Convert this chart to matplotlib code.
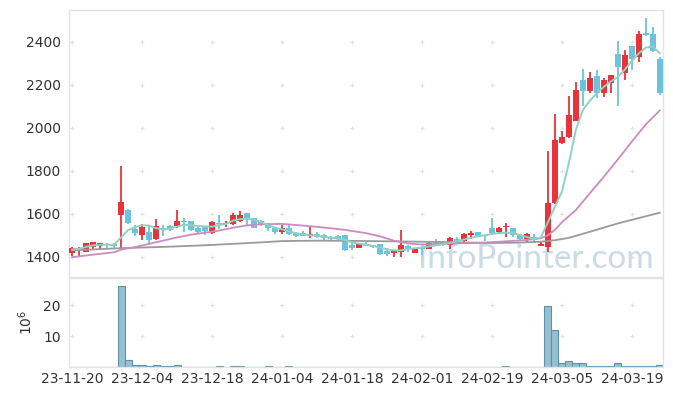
import numpy as np
import matplotlib
matplotlib.use('Agg')
import matplotlib.pyplot as plt

# daily candles, trading-day index 0 = 2023-11-20
opens = [1416, 1433, 1423, 1446, 1450, 1457, 1458, 1595, 1617, 1530,
         1502, 1515, 1481, 1533, 1543, 1541, 1566, 1566, 1532, 1541,
         1510, 1557, 1554, 1553, 1566, 1603, 1578, 1566, 1551, 1535,
         1513, 1535, 1510, 1510, 1498, 1504, 1501, 1492, 1496, 1501,
         1454, 1442, 1460, 1454, 1458, 1427, 1419, 1422, 1450, 1419,
         1440, 1437, 1465, 1465, 1453, 1484, 1472, 1500, 1515, 1500,
         1533, 1515, 1537, 1533, 1500, 1481, 1493, 1450, 1447, 1648,
         1930, 1955, 2032, 2222, 2172, 2240, 2163, 2209, 2343, 2253,
         2380, 2327, 2442, 2435, 2321]
highs = [1444, 1446, 1466, 1471, 1466, 1466, 1462, 1822, 1620, 1546,
         1551, 1542, 1577, 1546, 1550, 1617, 1581, 1568, 1538, 1545,
         1566, 1594, 1568, 1603, 1612, 1603, 1582, 1570, 1557, 1537,
         1550, 1547, 1515, 1519, 1538, 1516, 1507, 1495, 1499, 1501,
         1468, 1465, 1468, 1455, 1458, 1440, 1428, 1524, 1456, 1440,
         1446, 1468, 1481, 1472, 1490, 1490, 1509, 1518, 1515, 1500,
         1580, 1540, 1555, 1533, 1500, 1512, 1506, 1474, 1890, 2063,
         1985, 2147, 2212, 2271, 2257, 2266, 2231, 2244, 2401, 2360,
         2380, 2448, 2510, 2470, 2330]
lows = [1403, 1405, 1421, 1432, 1430, 1443, 1443, 1440, 1552, 1496,
        1480, 1459, 1478, 1496, 1520, 1535, 1513, 1522, 1510, 1502,
        1505, 1529, 1540, 1550, 1562, 1550, 1535, 1545, 1520, 1508,
        1508, 1501, 1494, 1495, 1486, 1486, 1476, 1478, 1476, 1425,
        1430, 1440, 1448, 1442, 1408, 1403, 1400, 1400, 1422, 1416,
        1410, 1434, 1450, 1450, 1437, 1468, 1459, 1482, 1493, 1474,
        1505, 1505, 1490, 1490, 1478, 1470, 1464, 1450, 1422, 1645,
        1926, 1950, 2030, 2100, 2160, 2140, 2141, 2163, 2101, 2222,
        2266, 2305, 2424, 2350, 2150]
closes = [1439, 1442, 1462, 1468, 1462, 1454, 1450, 1654, 1555, 1512,
          1537, 1478, 1543, 1524, 1524, 1566, 1563, 1526, 1516, 1519,
          1560, 1553, 1557, 1594, 1594, 1578, 1535, 1547, 1535, 1513,
          1535, 1504, 1498, 1498, 1507, 1498, 1486, 1482, 1482, 1430,
          1439, 1460, 1451, 1446, 1414, 1415, 1425, 1453, 1434, 1434,
          1434, 1462, 1459, 1456, 1487, 1474, 1506, 1509, 1493, 1496,
          1512, 1533, 1540, 1500, 1484, 1506, 1478, 1459, 1648, 1943,
          1956, 2058, 2175, 2169, 2231, 2163, 2222, 2244, 2281, 2337,
          2321, 2435, 2433, 2355, 2163]
# volume, millions of shares
volume = [0, 0, 0, 0, 0, 0, 0, 26.2, 2.3, 0.6,
          0.6, 0.3, 0.6, 0.3, 0.3, 0.6, 0, 0, 0, 0,
          0, 0.3, 0, 0.3, 0.3, 0, 0, 0, 0.3, 0,
          0, 0.3, 0, 0, 0, 0, 0, 0, 0, 0,
          0, 0, 0, 0, 0, 0, 0, 0, 0, 0,
          0, 0, 0, 0, 0, 0, 0, 0, 0, 0,
          0, 0, 0.3, 0, 0, 0, 0, 0, 19.8, 12.0,
          1.3, 2.1, 1.3, 1.3, 0.3, 0.3, 0.3, 0.3, 1.3, 0.3,
          0.3, 0.3, 0.3, 0.3, 0.6]

# moving averages (index, value)
ma5_idx = list(range(85))
ma5_val = [1434, 1437, 1446, 1453, 1456, 1456, 1456, 1490, 1524, 1538,
           1546, 1545, 1533, 1526, 1531, 1540, 1549, 1547, 1543, 1541,
           1540, 1548, 1553, 1568, 1575, 1577, 1572, 1562, 1547, 1536,
           1528, 1518, 1510, 1504, 1500, 1496, 1493, 1489, 1485, 1478,
           1467, 1461, 1457, 1450, 1443, 1435, 1430, 1430, 1435, 1440,
           1443, 1448, 1453, 1458, 1465, 1472, 1480, 1488, 1495, 1500,
           1506, 1510, 1512, 1510, 1502, 1492, 1482, 1490, 1560, 1632,
           1702, 1834, 1989, 2082, 2125, 2160, 2190, 2215, 2235, 2270,
           2310, 2345, 2372, 2378, 2346]
ma20_idx = [0, 3, 6, 7, 9, 11, 13, 15, 17, 19, 21, 23, 25, 27, 30, 33, 36, 39,
            42, 44, 46, 48, 50, 53, 56, 59, 62, 65, 67, 68, 69, 70, 72, 74,
            76, 78, 80, 82, 84]
ma20_val = [1398, 1410, 1421, 1433, 1445, 1460, 1475, 1490, 1503, 1512, 1522,
            1535, 1546, 1551, 1553, 1545, 1536, 1525, 1510, 1495, 1475, 1462,
            1457, 1460, 1463, 1466, 1472, 1478, 1486, 1500, 1525, 1560, 1617,
            1695, 1772, 1852, 1935, 2015, 2080]
ma60_idx = [0, 7, 14, 20, 27, 30, 35, 40, 45, 50, 55, 60, 64, 67, 69, 71, 74,
            78, 81, 84]
ma60_val = [1430, 1440, 1447, 1455, 1467, 1473, 1475, 1474, 1472, 1470, 1467,
            1464, 1466, 1470, 1477, 1488, 1516, 1555, 1580, 1605]

tick_pos = [0, 10, 20, 30, 40, 50, 60, 70, 80]
tick_labels = ['23-11-20', '23-12-04', '23-12-18', '24-01-04', '24-01-18',
               '24-02-01', '24-02-19', '24-03-05', '24-03-19']
price_ticks = [1400, 1600, 1800, 2000, 2200, 2400]
vol_ticks = [10, 20]

UP = '#e8333a'
DOWN = '#6cc4dc'
SPINE = '#e3e3e3'

fig = plt.figure(figsize=(6.73, 3.96), dpi=100)
ax = fig.add_axes([0.1025, 0.3005, 0.8825, 0.6742])
axv = fig.add_axes([0.1025, 0.0725, 0.8825, 0.2255])

x = np.arange(len(closes))
o = np.array(opens)
c = np.array(closes)
colors = [UP if cc >= oo else DOWN for oo, cc in zip(o, c)]

# grid crosses
gx, gy = np.meshgrid(tick_pos, price_ticks)
ax.scatter(gx.ravel(), gy.ravel(), marker='+', s=12, color='#e2e2e2', lw=0.8, zorder=0)
gx, gy = np.meshgrid(tick_pos, vol_ticks)
axv.scatter(gx.ravel(), gy.ravel(), marker='+', s=12, color='#e2e2e2', lw=0.8, zorder=0)

ax.text(0.985, 0.035, 'InfoPointer.com', transform=ax.transAxes, ha='right',
        va='baseline', fontsize=24, family='Lato', color='#bdd2df', alpha=0.8, zorder=1)

ax.vlines(x, lows, highs, colors=colors, lw=1.3, zorder=2)
body = np.maximum(np.abs(c - o), 4)
ax.bar(x, body, bottom=np.minimum(o, c), width=0.8, color=colors, zorder=3)

ax.plot(ma60_idx, ma60_val, color='#9a9a9a', lw=1.3, zorder=4)
ax.plot(ma20_idx, ma20_val, color='#c98cc2', lw=1.3, zorder=4)
ax.plot(ma5_idx, ma5_val, color='#92d0c3', lw=1.4, zorder=4)

ax.set_xlim(-0.45, 84.45)
ax.set_ylim(1306, 2547)
ax.set_yticks(price_ticks)
ax.set_xticks(tick_pos)
ax.tick_params(axis='x', labelbottom=False, length=0)
ax.tick_params(axis='y', length=0, pad=6, labelsize=10, labelcolor='#333333')

axv.bar(x, volume, width=1.0, color='#97bfd0', edgecolor='#5b93ad', lw=0.8)
axv.set_xlim(-0.45, 84.45)
axv.set_ylim(0, 28.7)
axv.set_yticks(vol_ticks)
axv.set_xticks(tick_pos)
axv.set_xticklabels(tick_labels)
axv.tick_params(length=0, labelsize=10, labelcolor='#333333')
axv.tick_params(axis='y', pad=6)
axv.set_ylabel(r'$10^6$', fontsize=10, color='#333333', labelpad=6)

for a in (ax, axv):
    for s in a.spines.values():
        s.set_color(SPINE)
        s.set_linewidth(1.0)

fig.savefig('out.png', dpi=100)
